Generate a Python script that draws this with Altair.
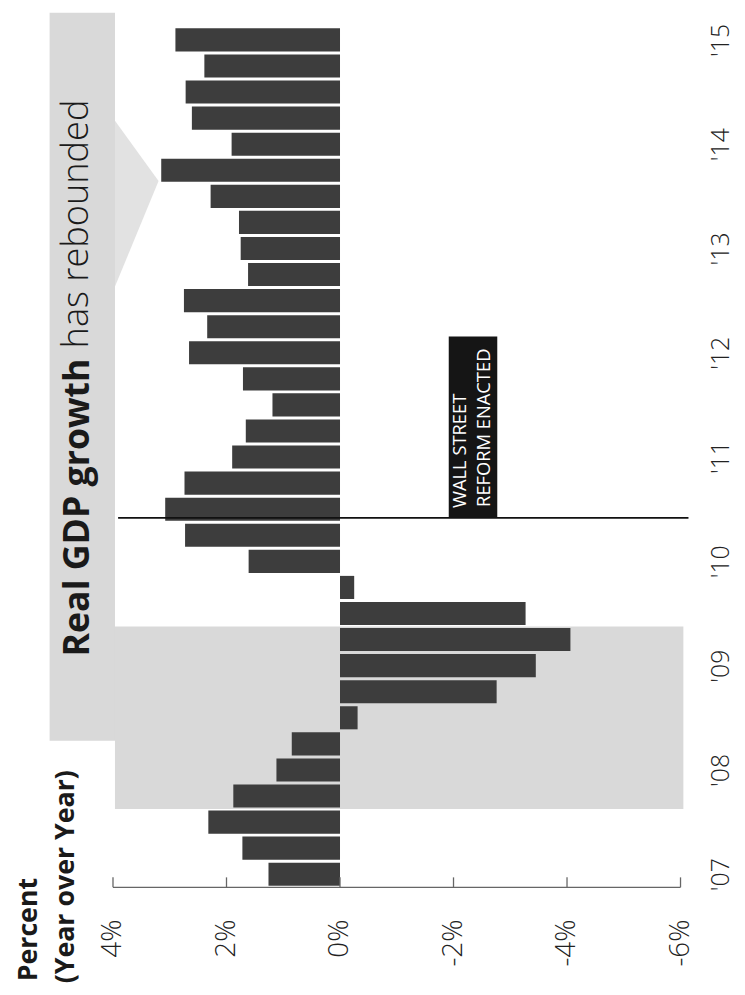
import altair as alt
import pandas as pd

# ---------------- data ----------------
quarters = [
    "2007Q1", "2007Q2", "2007Q3", "2007Q4",
    "2008Q1", "2008Q2", "2008Q3", "2008Q4",
    "2009Q1", "2009Q2", "2009Q3", "2009Q4",
    "2010Q1", "2010Q2", "2010Q3", "2010Q4",
    "2011Q1", "2011Q2", "2011Q3", "2011Q4",
    "2012Q1", "2012Q2", "2012Q3", "2012Q4",
    "2013Q1", "2013Q2", "2013Q3", "2013Q4",
    "2014Q1", "2014Q2", "2014Q3", "2014Q4",
    "2015Q1",
]
growth = [
    1.26, 1.72, 2.32, 1.88,
    1.12, 0.85, -0.31, -2.76,
    -3.45, -4.06, -3.27, -0.25,
    1.61, 2.73, 3.08, 2.74,
    1.90, 1.66, 1.19, 1.71,
    2.66, 2.34, 2.75, 1.62,
    1.75, 1.78, 2.28, 3.15,
    1.91, 2.61, 2.72, 2.39,
    2.90,
]
value_ticks = [4, 2, 0, -2, -4, -6]
year_ticks = [2007, 2008, 2009, 2010, 2011, 2012, 2013, 2014, 2015]
year_labels = ["'07", "'08", "'09", "'10", "'11", "'12", "'13", "'14", "'15"]
title_bold = "Real GDP growth"
title_rest = "has rebounded"
axis_title_lines = ["Percent", "(Year over Year)"]
reform_lines = ["WALL STREET", "REFORM ENACTED"]
recession_quarters = ["2007Q4", "2009Q2"]
reform_time = 2010.542

# ---------------- helpers ----------------
def q_start(q):
    return int(q[:4]) + (int(q[-1]) - 1) / 4.0

GAP = 0.0143  # half gap between bars (years)

bars = pd.DataFrame({"q": quarters, "v": growth})
bars["t0"] = bars["q"].map(q_start) + GAP
bars["t1"] = bars["q"].map(q_start) + 0.25 - GAP
bars["zero"] = 0.0

X_DOM = [5.117, -6.14]
T_DOM = [2007.0, 2015.386]
xs = alt.Scale(domain=X_DOM, nice=False, zero=False)
ts = alt.Scale(domain=T_DOM, nice=False, zero=False)

FONT = "Open Sans"
DARK = "#222222"
GRAY_BG = "#d9d9d9"

label_arr = "[" + ",".join('"%s"' % l for l in year_labels) + "]"

x_axis = alt.Axis(
    orient="bottom", values=value_ticks, labelExpr="datum.value + '%'",
    domain=False, ticks=False, grid=False, title=None,
    labelAngle=270, labelAlign="right", labelBaseline="middle",
    labelPadding=32, labelFont=FONT, labelFontSize=28,
    labelFontWeight=300, labelColor=DARK)
y_axis = alt.Axis(
    orient="right", values=[y + 0.125 for y in year_ticks],
    labelExpr=label_arr + "[floor(datum.value) - 2007]",
    domain=False, ticks=False, grid=False, title=None,
    labelAngle=270, labelAlign="center", labelBaseline="top",
    labelPadding=20, labelFont=FONT, labelFontSize=25,
    labelFontWeight=300, labelColor=DARK)


def X(f):
    return alt.X(f, scale=xs, axis=x_axis)


def Y(f):
    return alt.Y(f, scale=ts, axis=y_axis)


# ---------------- layers ----------------
title_box = alt.Chart(pd.DataFrame({
    "x": [5.117], "x2": [3.965], "t": [2008.405], "t2": [2015.386]
})).mark_rect(color=GRAY_BG).encode(
    x=X("x:Q"), x2="x2", y=Y("t:Q"), y2="t2")

rec = pd.DataFrame({
    "x": [3.965], "x2": [-6.05],
    "t": [q_start(recession_quarters[0])],
    "t2": [q_start(recession_quarters[1]) + 0.25],
})
recession = alt.Chart(rec).mark_rect(color=GRAY_BG).encode(
    x=X("x:Q"), x2="x2", y=Y("t:Q"), y2="t2")

pointer = alt.Chart(pd.DataFrame({
    "t": [2012.76, 2013.771, 2014.35],
    "x": [3.965, 3.197, 3.965],
    "b": [3.965, 3.965, 3.965],
})).mark_area(color="#e2e2e2", orient="horizontal", opacity=1).encode(
    y=Y("t:Q"), x=X("x:Q"), x2="b")

bar_layer = alt.Chart(bars).mark_rect(color="#3d3d3d").encode(
    x=X("v:Q"), x2="zero", y=Y("t0:Q"), y2="t1")

axis_line = alt.Chart(pd.DataFrame({
    "x": [value_ticks[0]], "x2": [value_ticks[-1]], "t": [2007.0]
})).mark_rule(color="#666666", strokeWidth=1.3).encode(
    x=X("x:Q"), x2="x2", y=Y("t:Q"))

tick_marks = alt.Chart(pd.DataFrame({
    "x": value_ticks, "t": [2007.0] * 6, "t2": [2007.095] * 6
})).mark_rule(color="#666666", strokeWidth=1.3).encode(
    x=X("x:Q"), y=Y("t:Q"), y2="t2")

reform_rule = alt.Chart(pd.DataFrame({
    "x": [3.91], "x2": [-6.14], "t": [reform_time]
})).mark_rule(color="#111111", strokeWidth=1.6).encode(
    x=X("x:Q"), x2="x2", y=Y("t:Q"))

reform_box = alt.Chart(pd.DataFrame({
    "x": [-1.916], "x2": [-2.771], "t": [reform_time], "t2": [2012.28]
})).mark_rect(color="#151515").encode(
    x=X("x:Q"), x2="x2", y=Y("t:Q"), y2="t2")

reform_text = alt.Chart(pd.DataFrame({
    "s": reform_lines, "x": [-2.213, -2.649], "t": [2010.637, 2010.647]
})).mark_text(angle=270, align="left", baseline="alphabetic", font=FONT,
              fontSize=18.5, color="white").encode(
    x=X("x:Q"), y=Y("t:Q"), text="s:N")

title1 = alt.Chart(pd.DataFrame({
    "s": [title_bold], "x": [4.419], "t": [2009.213]
})).mark_text(angle=270, align="left", baseline="alphabetic", font=FONT,
              fontSize=36, fontWeight="bold", color="#1a1a1a").encode(
    x=X("x:Q"), y=Y("t:Q"), text="s:N")

title2 = alt.Chart(pd.DataFrame({
    "s": [title_rest], "x": [4.436], "t": [2012.167]
})).mark_text(angle=270, align="left", baseline="alphabetic", font=FONT,
              fontSize=36.5, fontWeight=300, color="#1a1a1a").encode(
    x=X("x:Q"), y=Y("t:Q"), text="s:N")

axis_title = alt.Chart(pd.DataFrame({
    "s": axis_title_lines, "x": [5.344, 4.68], "t": [2006.098, 2006.079]
})).mark_text(angle=270, align="left", baseline="alphabetic", font=FONT,
              fontSize=27, fontWeight="bold", color="#1a1a1a").encode(
    x=X("x:Q"), y=Y("t:Q"), text="s:N")

chart = alt.layer(
    title_box, recession, pointer, bar_layer, axis_line, tick_marks,
    reform_rule, reform_box, reform_text, title1, title2, axis_title,
).properties(
    width=645, height=883,
    autosize=alt.AutoSizeParams(type="none"),
    padding={"left": 42, "top": 0, "right": 49, "bottom": 99},
).configure(
    background="white", view=alt.ViewConfig(strokeWidth=0)
)

chart.save("out.html", embed_options={"renderer": "svg", "actions": False})
